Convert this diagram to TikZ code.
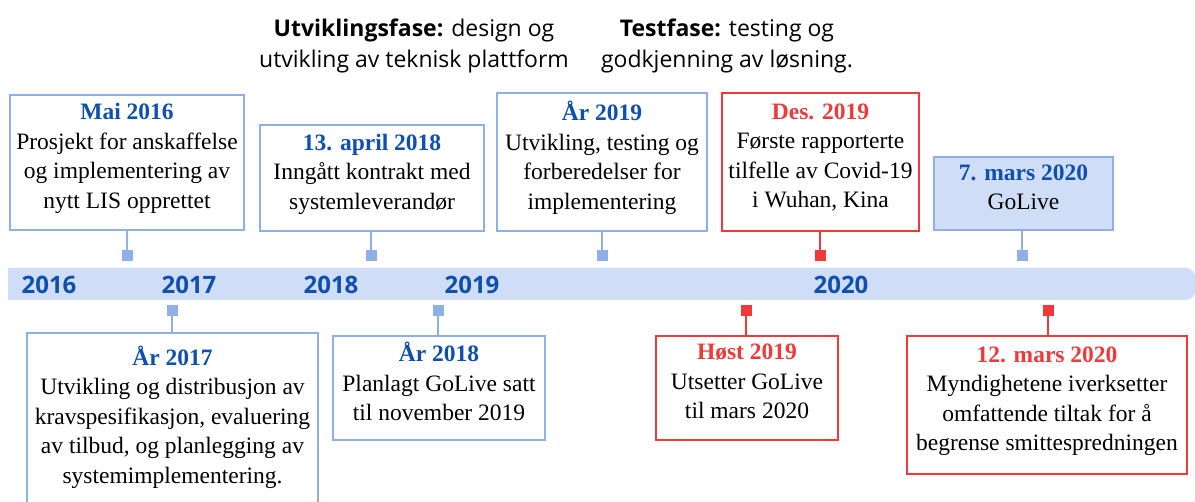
\documentclass[tikz,border=0pt]{standalone}
\usepackage{fontspec}
\setmainfont{Liberation Serif}
\newfontfamily\headfont{Open Sans}
\definecolor{barblue}{HTML}{CFDEF6}
\definecolor{lineblue}{HTML}{8FB0E6}
\definecolor{titleblue}{HTML}{0E4FAF}
\definecolor{alertred}{HTML}{F03A3A}
\begin{document}
\begin{tikzpicture}[x=1pt,y=-1pt,
  evbox/.style={draw=lineblue, line width=1.6pt, fill=white, align=center,
    font=\fontsize{23.5}{29.5}\selectfont, inner sep=0pt, text depth=13pt},
  redbox/.style={evbox, draw=alertred},
  marker/.style={fill=lineblue, minimum size=11pt, inner sep=0pt},
  redmarker/.style={marker, fill=alertred},
  stem/.style={draw=lineblue, line width=2pt},
  redstem/.style={stem, draw=alertred},
  year/.style={font=\headfont\bfseries\fontsize{24}{28}\selectfont, text=titleblue},
  phase/.style={font=\headfont\fontsize{23}{31}\selectfont, align=center}]
\useasboundingbox (0,0) rectangle (1195,502);

% timeline bar
\fill[barblue, rounded corners=9pt] (8,268) -- (1195,268) -- (1195,300) [sharp corners] -- (8,300) -- cycle;

% phase captions
\node[phase] (devphase) at (414,46) {\textbf{Utviklingsfase:} design og\\utvikling av teknisk plattform};
\node[phase] (testphase) at (727,46) {\textbf{Testfase:} testing og\\godkjenning av løsning.};

% year labels
\node[year] (y2016) at (49,285) {2016};
\node[year] (y2017) at (189,285) {2017};
\node[year] (y2018) at (331,285) {2018};
\node[year] (y2019) at (472,285) {2019};
\node[year] (y2020) at (841,285) {2020};

% events above the bar
\node[evbox, minimum width=234pt, minimum height=135pt] (e1) at (127,162.5)
  {\textcolor{titleblue}{\textbf{Mai 2016}}\\Prosjekt for anskaffelse\\og implementering av\\nytt LIS opprettet};
\node[evbox, minimum width=224pt, minimum height=106pt] (e3) at (372,178)
  {\textcolor{titleblue}{\textbf{13. april 2018}}\\Inngått kontrakt med\\systemleverandør};
\node[evbox, minimum width=210pt, minimum height=138pt] (e5) at (602,162)
  {\textcolor{titleblue}{\textbf{År 2019}}\\Utvikling, testing og\\forberedelser for\\implementering};
\node[redbox, minimum width=197pt, minimum height=138pt] (e6) at (820.5,162)
  {\textcolor{alertred}{\textbf{Des. 2019}}\\Første rapporterte\\tilfelle av Covid-19\\i Wuhan, Kina};
\node[evbox, fill=barblue, minimum width=179pt, minimum height=73pt] (e8) at (1023.5,193.5)
  {\textcolor{titleblue}{\textbf{7. mars 2020}}\\GoLive};

% events below the bar
\node[evbox, minimum width=291pt, minimum height=179pt, text depth=16pt] (e2) at (172.5,422.5)
  {\textcolor{titleblue}{\textbf{År 2017}}\\Utvikling og distribusjon av\\kravspesifikasjon, evaluering\\av tilbud, og planlegging av\\systemimplementering.};
\node[evbox, minimum width=212pt, minimum height=104pt] (e4) at (439,388)
  {\textcolor{titleblue}{\textbf{År 2018}}\\Planlagt GoLive satt\\til november 2019};
\node[redbox, minimum width=182pt, minimum height=104pt] (e7) at (747,388)
  {\textcolor{alertred}{\textbf{Høst 2019}}\\Utsetter GoLive\\til mars 2020};
\node[redbox, minimum width=280pt, minimum height=138pt] (e9) at (1047,405)
  {\textcolor{alertred}{\textbf{12. mars 2020}}\\Myndighetene iverksetter\\omfattende tiltak for å\\begrense smittespredningen};

% markers on the bar
\node[marker] (m1) at (127,255.5) {};
\node[marker] (m3) at (371,255.5) {};
\node[marker] (m5) at (602,255.5) {};
\node[redmarker] (m6) at (820,255.5) {};
\node[marker] (m8) at (1022,255.5) {};
\node[marker] (m2) at (172,310.5) {};
\node[marker] (m4) at (438,310.5) {};
\node[redmarker] (m7) at (746,310.5) {};
\node[redmarker] (m9) at (1048,310.5) {};

% stems from boxes to markers
\draw[stem] (e1.south -| m1) -- (m1.north);
\draw[stem] (e3.south -| m3) -- (m3.north);
\draw[stem] (e5.south -| m5) -- (m5.north);
\draw[redstem] (e6.south -| m6) -- (m6.north);
\draw[stem] (e8.south -| m8) -- (m8.north);
\draw[stem] (m2.south) -- (e2.north -| m2);
\draw[stem] (m4.south) -- (e4.north -| m4);
\draw[redstem] (m7.south) -- (e7.north -| m7);
\draw[redstem] (m9.south) -- (e9.north -| m9);
\end{tikzpicture}
\end{document}
